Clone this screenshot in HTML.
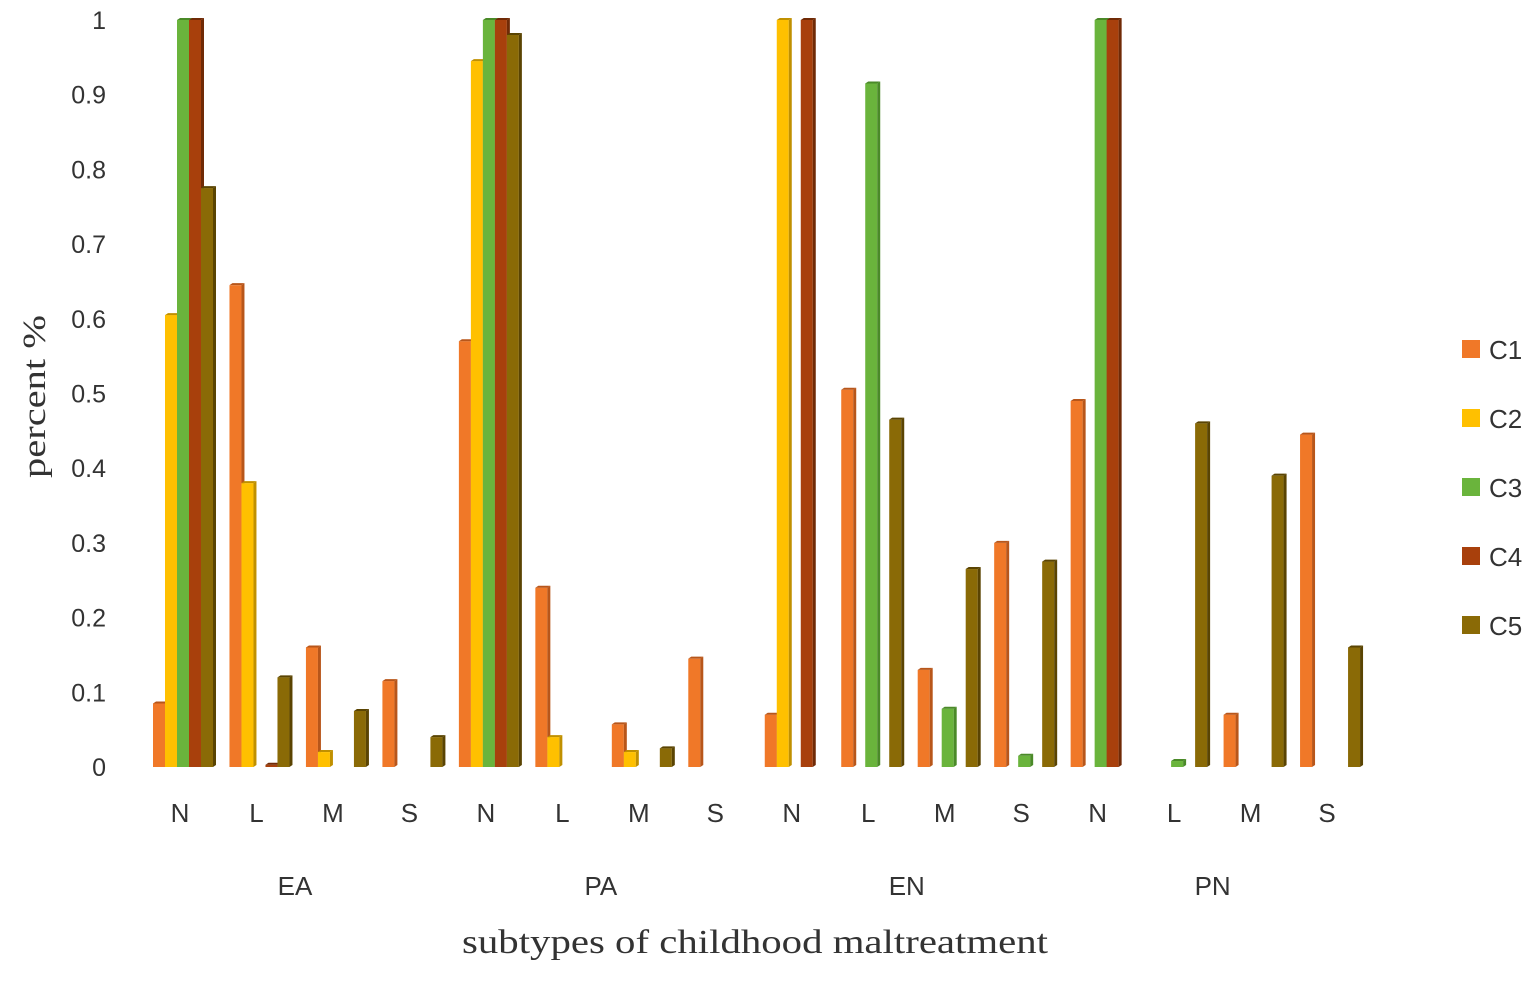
<!DOCTYPE html>
<html><head><meta charset="utf-8"><style>
body{margin:0;background:#fff;}
svg text{font-family:"Liberation Sans",sans-serif;fill:#333;}
</style></head><body>
<svg id="chart" width="1535" height="976">
<g id="grid"></g><g id="bars"></g><g id="labels"></g><g id="legend"></g>
<text x="462" y="953" textLength="586" lengthAdjust="spacingAndGlyphs" style="font-family:'Liberation Serif',serif;font-size:34px">subtypes of childhood maltreatment</text>
<text transform="translate(45,478) rotate(-90)" textLength="163" lengthAdjust="spacingAndGlyphs" style="font-family:'Liberation Serif',serif;font-size:33px">percent %</text>
</svg>
<script>
const groups=["EA","PA","EN","PN"];
const levels=["N","L","M","S"];
const series=["C1","C2","C3","C4","C5"];
const C1=[0.085,0.645,0.16,0.115, 0.57,0.24,0.057,0.145, 0.07,0.505,0.13,0.30, 0.49,0,0.07,0.445];
const C2=[0.605,0.38,0.02,0, 0.945,0.04,0.02,0, 1,0,0,0, 0,0,0,0];
const C3=[1,0,0,0, 1,0,0,0, 0,0.915,0.078,0.015, 1,0.008,0,0];
const C4=[1,0.003,0,0, 1,0,0,0, 1,0,0,0, 1,0,0,0];
const C5=[0.775,0.12,0.075,0.04, 0.98,0,0.025,0, 0,0.465,0.265,0.275, 0,0.46,0.39,0.16];
const yTicks=["0","0.1","0.2","0.3","0.4","0.5","0.6","0.7","0.8","0.9","1"];
const colors=[["#f07828","#b8561a"],["#ffc000","#c09000"],["#6ab43c","#4a8a28"],["#a8400c","#702a06"],["#8a6a06","#5a4402"]];
const data=[C1,C2,C3,C4,C5];
const ns="http://www.w3.org/2000/svg";
const y0=767,y1=20;
const y=v=>y0-v*(y0-y1);
const catX=i=>180+i*76.47;
function mk(tag,attrs,parent){const e=document.createElementNS(ns,tag);for(const k in attrs)e.setAttribute(k,attrs[k]);parent.appendChild(e);return e;}
const bars=document.getElementById('bars'),labels=document.getElementById('labels'),legend=document.getElementById('legend');
yTicks.forEach((t,i)=>{const e=mk('text',{x:106,y:y(parseFloat(t))+9,'text-anchor':'end','font-size':'25'},labels);e.textContent=t;

});
for(let c=0;c<16;c++){
  const cx=catX(c);
  data.forEach((arr,s)=>{
    const v=arr[c]; if(!(v>0))return;
    const x=cx-27+s*12, top=y(v), h=y0-top;
    const g=mk('g',{},bars);
    
    
    mk('rect',{x:x,y:top,width:12,height:h,fill:colors[s][0]},g);
    mk('polygon',{points:`${x+12},${top} ${x+15},${top-2} ${x+15},${y0-2} ${x+12},${y0}`,fill:colors[s][1]},g);
    mk('polygon',{points:`${x},${top} ${x+3},${top-2} ${x+15},${top-2} ${x+12},${top}`,fill:colors[s][1]},g);
  });
  const l=mk('text',{x:cx,y:822,'text-anchor':'middle','font-size':'26'},labels);l.textContent=levels[c%4];
  
  
}
groups.forEach((gname,i)=>{const e=mk('text',{x:catX(i*4)+115,y:895,'text-anchor':'middle','font-size':'26'},labels);e.textContent=gname;

});
series.forEach((s,i)=>{const yy=350+i*69;
const g=mk('g',{},legend);


mk('rect',{x:1462,y:yy-10,width:18,height:18,fill:colors[i][0]},g);
const t=mk('text',{x:1489,y:yy+9,'font-size':'26'},g);t.textContent=s;});
</script>
</body></html>
